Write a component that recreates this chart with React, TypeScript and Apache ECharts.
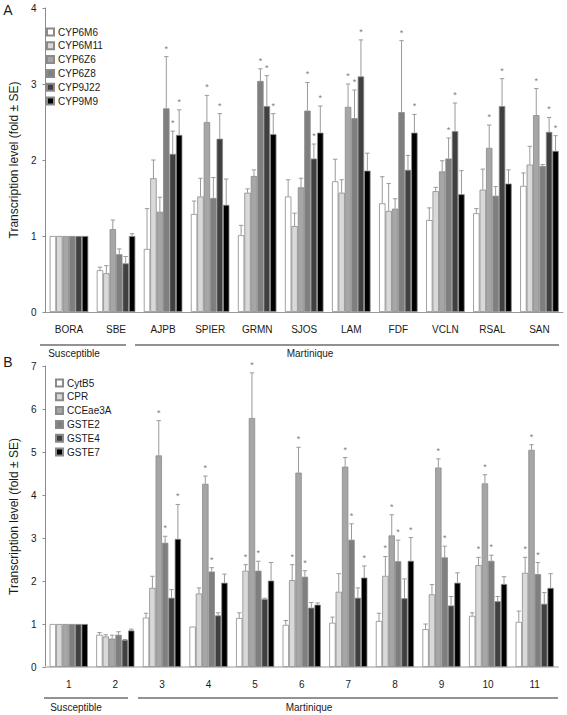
import React, { useEffect, useRef } from "react";
import * as echarts from "echarts";

// ---------- Panel A data ----------
const catsA = ["BORA", "SBE", "AJPB", "SPIER", "GRMN", "SJOS", "LAM", "FDF", "VCLN", "RSAL", "SAN"];
const genesA = ["CYP6M6", "CYP6M11", "CYP6Z6", "CYP6Z8", "CYP9J22", "CYP9M9"];
const cyp6m6 = [1, 0.55, 0.83, 1.29, 1.01, 1.52, 1.72, 1.43, 1.21, 1.30, 1.66];
const cyp6m6Se = [0, 0.04, 0.53, 0.17, 0.13, 0.22, 0.29, 0.35, 0.16, 0.06, 0.17];
const cyp6m11 = [1, 0.51, 1.76, 1.52, 1.57, 1.13, 1.57, 1.33, 1.59, 1.61, 1.94];
const cyp6m11Se = [0, 0.10, 0.24, 0.24, 0.05, 0.17, 0.17, 0.36, 0.05, 0.27, 0.24];
const cyp6z6 = [1, 1.09, 1.32, 2.50, 1.79, 1.64, 2.70, 1.36, 1.85, 2.16, 2.59];
const cyp6z6Se = [0, 0.12, 0.19, 0.35, 0.08, 0.12, 0.30, 0.13, 0.14, 0.30, 0.35];
const cyp6z8 = [1, 0.76, 2.68, 1.50, 3.04, 2.65, 2.55, 2.63, 2.02, 1.53, 1.92];
const cyp6z8Se = [0, 0.07, 0.68, 0.27, 0.16, 0.37, 0.37, 0.94, 0.27, 0.12, 0.02];
const cyp9j22 = [1, 0.64, 2.08, 2.28, 2.71, 2.02, 3.10, 1.87, 2.38, 2.71, 2.37];
const cyp9j22Se = [0, 0.09, 0.30, 0.33, 0.40, 0.19, 0.48, 0.19, 0.37, 0.36, 0.19];
const cyp9m9 = [1, 1.00, 2.33, 1.41, 2.34, 2.36, 1.86, 2.36, 1.55, 1.69, 2.12];
const cyp9m9Se = [0, 0.03, 0.33, 0.34, 0.27, 0.35, 0.23, 0.24, 0.31, 0.18, 0.20];
// significance flags (1 = asterisk)
const cyp6m6Sig = [0, 0, 0, 0, 0, 0, 0, 0, 0, 0, 0];
const cyp6m11Sig = [0, 0, 0, 0, 0, 0, 0, 0, 0, 0, 0];
const cyp6z6Sig = [0, 0, 0, 1, 0, 0, 1, 0, 0, 1, 1];
const cyp6z8Sig = [0, 0, 1, 0, 1, 1, 1, 1, 1, 0, 0];
const cyp9j22Sig = [0, 0, 1, 1, 1, 1, 1, 0, 1, 1, 1];
const cyp9m9Sig = [0, 0, 1, 0, 1, 1, 0, 1, 0, 0, 1];
const yTicksA = [0, 1, 2, 3, 4];

// ---------- Panel B data ----------
const catsB = ["1", "2", "3", "4", "5", "6", "7", "8", "9", "10", "11"];
const genesB = ["CytB5", "CPR", "CCEae3A", "GSTE2", "GSTE4", "GSTE7"];
const cytb5 = [1, 0.75, 1.15, 0.94, 1.14, 0.98, 1.03, 1.07, 0.88, 1.19, 1.05];
const cytb5Se = [0, 0.05, 0.10, 0, 0.12, 0.10, 0.13, 0.18, 0.12, 0.07, 0.25];
const cpr = [1, 0.71, 1.84, 1.71, 2.24, 2.02, 1.75, 2.12, 1.69, 2.37, 2.19];
const cprSe = [0, 0.04, 0.27, 0.13, 0.14, 0.36, 0.42, 0.45, 0.23, 0.18, 0.36];
const cceae3a = [1, 0.66, 4.92, 4.26, 5.79, 4.52, 4.66, 3.06, 4.64, 4.27, 5.05];
const cceae3aSe = [0, 0.08, 0.81, 0.18, 1.05, 0.59, 0.21, 0.48, 0.20, 0.20, 0.12];
const gste2 = [1, 0.75, 2.89, 2.22, 2.24, 2.10, 2.96, 2.46, 2.55, 2.47, 2.16];
const gste2Se = [0, 0.07, 0.15, 0.09, 0.22, 0.14, 0.37, 0.49, 0.26, 0.13, 0.27];
const gste4 = [1, 0.63, 1.61, 1.20, 1.58, 1.38, 1.61, 1.60, 1.43, 1.53, 1.47];
const gste4Se = [0, 0.01, 0.19, 0.06, 0.02, 0.12, 0.23, 0.45, 0.21, 0.11, 0.26];
const gste7 = [1, 0.85, 2.98, 1.96, 2.01, 1.45, 2.08, 2.47, 1.96, 1.93, 1.84];
const gste7Se = [0, 0.03, 0.80, 0.20, 0.42, 0.04, 0.27, 0.54, 0.23, 0.17, 0.33];
const cytb5Sig = [0, 0, 0, 0, 0, 0, 0, 0, 0, 0, 0];
const cprSig = [0, 0, 0, 0, 1, 1, 0, 1, 0, 1, 1];
const cceae3aSig = [0, 0, 1, 1, 1, 1, 1, 1, 1, 1, 1];
const gste2Sig = [0, 0, 1, 1, 1, 1, 1, 1, 1, 1, 1];
const gste4Sig = [0, 0, 0, 0, 0, 0, 0, 0, 0, 0, 0];
const gste7Sig = [0, 0, 1, 0, 0, 0, 1, 1, 0, 0, 0];
const yTicksB = [0, 1, 2, 3, 4, 5, 6, 7];

const valuesA = [cyp6m6, cyp6m11, cyp6z6, cyp6z8, cyp9j22, cyp9m9];
const seA = [cyp6m6Se, cyp6m11Se, cyp6z6Se, cyp6z8Se, cyp9j22Se, cyp9m9Se];
const sigA = [cyp6m6Sig, cyp6m11Sig, cyp6z6Sig, cyp6z8Sig, cyp9j22Sig, cyp9m9Sig];
const valuesB = [cytb5, cpr, cceae3a, gste2, gste4, gste7];
const seB = [cytb5Se, cprSe, cceae3aSe, gste2Se, gste4Se, gste7Se];
const sigB = [cytb5Sig, cprSig, cceae3aSig, gste2Sig, gste4Sig, gste7Sig];

const FILLS = ["#ffffff", "#d9d9d9", "#a6a6a6", "#7f7f7f", "#404040", "#000000"];
const FONT = "'Liberation Sans', Arial, Helvetica, sans-serif";
const TEXT = "#1a1a1a";
const GAP = 0.18;
const N = 6;

function makeErrSeries(panel: number, gi: number, vals: number[], se: number[], sig: number[]) {
  return {
    type: "custom",
    name: `err${panel}_${gi}`,
    xAxisIndex: panel,
    yAxisIndex: panel,
    z: 3,
    silent: true,
    encode: { x: 0, y: 1 },
    data: vals.map((v, j) => [j, v, se[j], sig[j]]),
    renderItem: (params: any, api: any) => {
      const cat = api.value(0);
      const v = api.value(1);
      const s = api.value(2);
      const star = api.value(3);
      const base = api.coord([cat, v]);
      const bw = api.size([1, 0])[0];
      const inner = bw * (1 - GAP);
      const x = base[0] - inner / 2 + ((gi + 0.5) * inner) / N;
      const top = api.coord([cat, v + s])[1];
      const children: any[] = [];
      const col = "#9a9a9a";
      if (s > 0) {
        children.push({
          type: "line",
          shape: { x1: x, y1: base[1], x2: x, y2: top },
          style: { stroke: col, lineWidth: 1 },
        });
        children.push({
          type: "line",
          shape: { x1: x - 2.2, y1: top, x2: x + 2.2, y2: top },
          style: { stroke: col, lineWidth: 1 },
        });
      }
      if (star) {
        children.push({
          type: "text",
          x: x,
          y: top - 8,
          style: {
            text: "*",
            fill: "#808080",
            font: `9px ${FONT}`,
            align: "center",
            verticalAlign: "middle",
          },
        });
      }
      return { type: "group", children };
    },
  };
}

function makeBarSeries(panel: number, names: string[], values: number[][]) {
  return names.map((name, gi) => ({
    type: "bar",
    name,
    xAxisIndex: panel,
    yAxisIndex: panel,
    barGap: "0%",
    barCategoryGap: `${GAP * 100}%`,
    itemStyle: { color: FILLS[gi], borderColor: "#8a8a8a", borderWidth: 0.8 },
    data: values[gi],
  }));
}

export default function App() {
  const ref = useRef<HTMLDivElement>(null);
  useEffect(() => {
    if (!ref.current) return;
    const chart = echarts.init(ref.current, undefined, { renderer: "svg" });
    const yName = "Transcription level (fold ± SE)";
    const axisCommonY = {
      type: "value",
      min: 0,
      interval: 1,
      name: yName,
      nameLocation: "middle",
      nameGap: 20,
      nameTextStyle: { fontFamily: FONT, fontSize: 12, color: TEXT },
      axisLine: { show: true, lineStyle: { color: "#8c8c8c", width: 1 } },
      axisTick: { show: true, length: 3, lineStyle: { color: "#8c8c8c" } },
      axisLabel: { fontFamily: FONT, fontSize: 10, color: TEXT, margin: 9 },
      splitLine: { show: false },
    };
    const series: any[] = [
      ...makeBarSeries(0, genesA, valuesA),
      ...makeBarSeries(1, genesB, valuesB),
      ...genesA.map((_, gi) => makeErrSeries(0, gi, valuesA[gi], seA[gi], sigA[gi])),
      ...genesB.map((_, gi) => makeErrSeries(1, gi, valuesB[gi], seB[gi], sigB[gi])),
    ];
    const legendCommon = {
      orient: "vertical",
      padding: 0,
      itemWidth: 7,
      itemHeight: 7,
      itemGap: 3.8,
      icon: "rect",
      textStyle: { fontFamily: FONT, fontSize: 10, color: TEXT, padding: [0, 0, 0, -1] },
      selectedMode: false,
    };
    const groupText = (x: number, y: number, t: string) => ({
      type: "text",
      x,
      y,
      style: { text: t, font: `10px ${FONT}`, fill: TEXT, align: "center", verticalAlign: "middle" },
    });
    const groupLine = (x1: number, x2: number, y: number) => ({
      type: "line",
      shape: { x1, y1: y, x2, y2: y },
      style: { stroke: "#6e6e6e", lineWidth: 1.5 },
    });
    chart.setOption({
      animation: false,
      backgroundColor: "#ffffff",
      textStyle: { fontFamily: FONT },
      grid: [
        { left: 39, right: 4, top: 8, height: 304 },
        { left: 39, right: 9, top: 366, height: 301 },
      ],
      xAxis: [
        {
          type: "category",
          gridIndex: 0,
          data: catsA,
          axisLine: { lineStyle: { color: "#999999", width: 1 } },
          axisTick: { show: false },
          axisLabel: { fontFamily: FONT, fontSize: 10, color: TEXT, margin: 12 },
        },
        {
          type: "category",
          gridIndex: 1,
          data: catsB,
          axisLine: { lineStyle: { color: "#cccccc", width: 2 } },
          axisTick: { show: false },
          axisLabel: { fontFamily: FONT, fontSize: 10, color: TEXT, margin: 12 },
        },
      ],
      yAxis: [
        { ...axisCommonY, gridIndex: 0, max: yTicksA[yTicksA.length - 1] },
        { ...axisCommonY, gridIndex: 1, max: yTicksB[yTicksB.length - 1] },
      ],
      legend: [
        { ...legendCommon, data: genesA, left: 46, top: 27 },
        { ...legendCommon, data: genesB, left: 55, top: 378 },
      ],
      graphic: [
        { type: "text", x: 8, y: 10, style: { text: "A", font: `14px ${FONT}`, fill: TEXT, align: "center", verticalAlign: "middle" } },
        { type: "text", x: 8, y: 362, style: { text: "B", font: `14px ${FONT}`, fill: TEXT, align: "center", verticalAlign: "middle" } },
        groupLine(40, 126, 345),
        groupLine(135, 559, 345),
        groupText(74, 353, "Susceptible"),
        groupText(310, 353, "Martinique"),
        groupLine(44, 128, 698),
        groupLine(138, 558, 698),
        groupText(76, 707, "Susceptible"),
        groupText(309, 707, "Martinique"),
      ],
      series,
    });
    return () => chart.dispose();
  }, []);
  return (
    <div
      ref={ref}
      style={{ position: "absolute", left: 0, top: 0, width: 567, height: 715, background: "#fff" }}
    />
  );
}
